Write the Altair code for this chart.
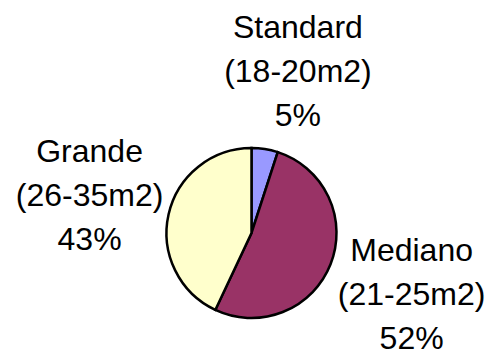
import altair as alt
import pandas as pd

# Room-size categories, their surface ranges and their share of rooms (%)
categories = ["Standard", "Mediano", "Grande"]
size_ranges = ["(18-20m2)", "(21-25m2)", "(26-35m2)"]
shares = [5, 52, 43]
colors = ["#9999FF", "#993366", "#FFFFCC"]

df = pd.DataFrame({
    "category": categories,
    "size_range": size_ranges,
    "share": shares,
    "rank": list(range(len(categories))),
})
df["label"] = df["category"] + "\n" + df["size_range"] + "\n" + df["share"].astype(str) + "%"

base = alt.Chart(df).encode(
    theta=alt.Theta("share:Q", stack=True),
    order=alt.Order("rank:Q"),
)

pie = base.mark_arc(outerRadius=85, stroke="black", strokeWidth=2.5).encode(
    color=alt.Color("category:N",
                    scale=alt.Scale(domain=categories, range=colors),
                    legend=None)
)

line_h = 44
text_style = dict(
    radius=169, font="Liberation Sans", fontSize=32, lineHeight=line_h,
    lineBreak="\n", align="center", baseline="middle", color="black",
)

# Three-line labels outside the pie, centred on their middle line;
# the small slice's label is nudged to the right
labels_main = base.transform_calculate(
    txt="datum.category == 'Standard' ? '' : datum.label"
).mark_text(dx=3, dy=-line_h, **text_style).encode(text="txt:N")

labels_small = base.transform_calculate(
    txt="datum.category == 'Standard' ? datum.label : ''"
).mark_text(dx=20, dy=6 - line_h, **text_style).encode(text="txt:N")

chart = (pie + labels_main + labels_small).properties(
    width=475,
    height=232,
    padding={"left": 14, "top": 117, "right": 0, "bottom": 0},
    autosize="none",
    background="white",
).configure_view(stroke=None)

chart.save("out.html", embed_options={"renderer": "svg", "actions": False})
